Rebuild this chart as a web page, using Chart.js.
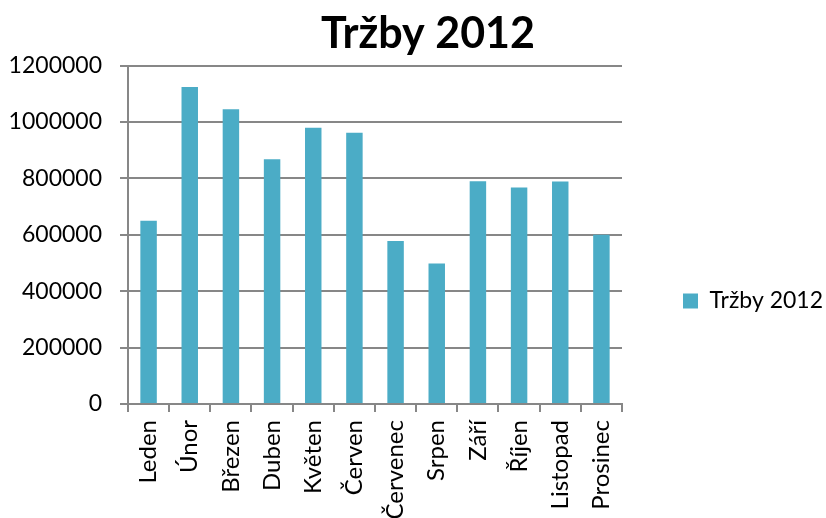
<!DOCTYPE html>
<html>
<head>
<meta charset="utf-8">
<script src="https://cdn.jsdelivr.net/npm/chart.js@4/dist/chart.umd.min.js"></script>
<style>
  html, body { margin: 0; padding: 0; background: #fff; }
  #wrap { width: 826px; height: 518px; }
</style>
</head>
<body>
<div id="wrap"><canvas id="grafTrzby" width="826" height="518"></canvas></div>
<script>
const mesice = ['Leden', 'Únor', 'Březen', 'Duben', 'Květen', 'Červen',
  'Červenec', 'Srpen', 'Září', 'Říjen', 'Listopad', 'Prosinec'];
const trzby = [650000, 1124000, 1045000, 868000, 980000, 962000,
  578000, 498000, 790000, 768000, 789000, 600000];
const nazevSerie = 'Tržby 2012';
const yMax = 1200000;
const yKrok = 200000;

const barva = '#4BACC6';
const seda = '#878787';
const pismo = 'Lato';

// mezera mezi grafem a legendou, legenda níž, titulek trochu doprava
const rozlozeni = {
  id: 'rozlozeni',
  beforeInit(chart) {
    const fit = chart.legend.fit;
    chart.legend.fit = function () {
      fit.call(this);
      this.width += 46;
    };
  },
  afterLayout(chart) {
    const leg = chart.legend;
    leg.left += 57;
    leg.top += 42;
    leg.bottom += 42;
    chart.titleBlock.left += 17;
    chart.titleBlock.right += 17;
  }
};

const ctx = document.getElementById('grafTrzby').getContext('2d');
new Chart(ctx, {
  type: 'bar',
  data: {
    labels: mesice,
    datasets: [{
      label: nazevSerie,
      data: trzby,
      backgroundColor: barva,
      borderWidth: 0,
      barPercentage: 0.4,
      categoryPercentage: 1
    }]
  },
  plugins: [rozlozeni],
  options: {
    responsive: false,
    animation: false,
    layout: { padding: { left: 0, right: 4, top: 0, bottom: 0 } },
    plugins: {
      title: {
        display: true,
        text: nazevSerie,
        color: '#000',
        font: { family: pismo, size: 43, weight: 'bold' },
        padding: { top: 8, bottom: 6 }
      },
      legend: {
        position: 'right',
        labels: {
          color: '#000',
          font: { family: pismo, size: 23 },
          boxWidth: 15,
          boxHeight: 15,
          padding: 4
        }
      },
      tooltip: { enabled: false }
    },
    scales: {
      x: {
        grid: {
          offset: true,
          drawOnChartArea: false,
          color: seda,
          lineWidth: 2,
          tickLength: 8
        },
        border: { color: seda, width: 2 },
        ticks: {
          color: '#000',
          font: { family: pismo, size: 24 },
          minRotation: 90,
          maxRotation: 90,
          autoSkip: false,
          padding: 8
        },
        afterFit(scale) {
          scale.height = 114;
        }
      },
      y: {
        min: 0,
        max: yMax,
        grid: {
          color: seda,
          lineWidth: 2,
          tickLength: 8
        },
        border: { color: seda, width: 2 },
        ticks: {
          stepSize: yKrok,
          color: '#000',
          font: { family: pismo, size: 23 },
          padding: 18,
          callback: v => String(v)
        },
        afterFit(scale) {
          scale.width = 128;
        }
      }
    }
  }
});
</script>
</body>
</html>
